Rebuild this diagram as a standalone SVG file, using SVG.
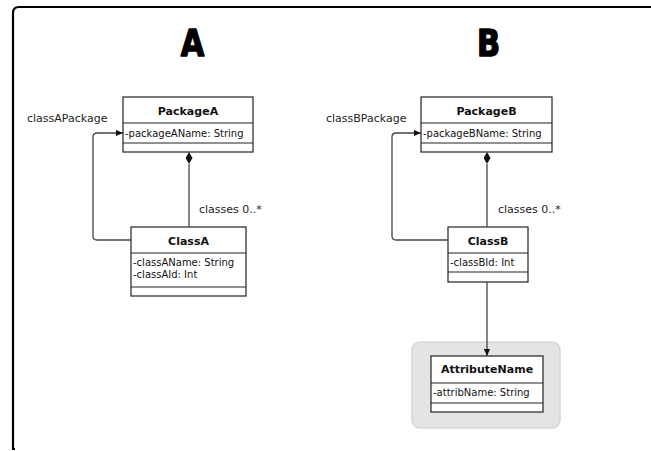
<svg xmlns="http://www.w3.org/2000/svg" width="651" height="451" viewBox="0 0 651 451">
  <defs>
    <marker id="arrow" viewBox="0 0 8 8" refX="8" refY="4" markerWidth="7" markerHeight="7" markerUnits="userSpaceOnUse" orient="auto">
      <path d="M0,0.5 L8,4 L0,7.5 Z" fill="#111"/>
    </marker>
    <marker id="diamond" viewBox="0 0 12 7" refX="0" refY="3.5" markerWidth="12" markerHeight="7" markerUnits="userSpaceOnUse" orient="auto">
      <path d="M0,3.5 L6,0 L12,3.5 L6,7 Z" fill="#111"/>
    </marker>
  </defs>
  <style>
    .frame { fill: none; stroke: #000; stroke-width: 2.2; }
    .big { font-family: "DejaVu Sans", "Liberation Sans", sans-serif; font-weight: bold; font-size: 38px; fill: #000; stroke: #000; stroke-width: 1.6; stroke-linejoin: round; }
    .box { fill: #fff; stroke: #222; stroke-width: 1.2; }
    .sep { stroke: #222; stroke-width: 1; }
    .title { font-family: "DejaVu Sans", sans-serif; font-weight: bold; font-size: 11px; fill: #111; text-anchor: middle; }
    .attr { font-family: "DejaVu Sans", sans-serif; font-size: 10px; fill: #111; }
    .label { font-family: "DejaVu Sans", sans-serif; font-size: 11px; fill: #222; }
    .edge { fill: none; stroke: #444; stroke-width: 1.3; }
    .pkg { fill: #e4e4e4; stroke: #d6d6d6; stroke-width: 1.5; }
  </style>

  <rect width="651" height="451" fill="#fff"/>

  <!-- outer frame -->
  <path class="frame" d="M651,7 H19 Q13,7 13,13 V449 H15"/>

  <!-- section headings -->
  <text class="big" transform="translate(192.5,56) scale(0.8,1)" text-anchor="middle">A</text>
  <text class="big" transform="translate(488.5,56) scale(0.8,1)" text-anchor="middle">B</text>

  <!-- PackageA -->
  <g id="packageA">
    <rect class="box" x="123" y="97" width="130" height="55"/>
    <line class="sep" x1="123" y1="123" x2="253" y2="123"/>
    <line class="sep" x1="123" y1="143" x2="253" y2="143"/>
    <text class="title" x="188" y="115">PackageA</text>
    <text class="attr" x="125" y="137">-packageAName: String</text>
  </g>

  <!-- ClassA -->
  <g id="classA">
    <rect class="box" x="131" y="227" width="115" height="69"/>
    <line class="sep" x1="131" y1="253" x2="246" y2="253"/>
    <line class="sep" x1="131" y1="287" x2="246" y2="287"/>
    <text class="title" x="188.5" y="245">ClassA</text>
    <text class="attr" x="133" y="266">-classAName: String</text>
    <text class="attr" x="133" y="278">-classAId: Int</text>
  </g>

  <!-- PackageB -->
  <g id="packageB">
    <rect class="box" x="421" y="97" width="131" height="55"/>
    <line class="sep" x1="421" y1="123" x2="552" y2="123"/>
    <line class="sep" x1="421" y1="143" x2="552" y2="143"/>
    <text class="title" x="486.5" y="115">PackageB</text>
    <text class="attr" x="423" y="137">-packageBName: String</text>
  </g>

  <!-- ClassB -->
  <g id="classB">
    <rect class="box" x="448" y="227" width="80" height="55"/>
    <line class="sep" x1="448" y1="253" x2="528" y2="253"/>
    <line class="sep" x1="448" y1="272" x2="528" y2="272"/>
    <text class="title" x="488" y="245">ClassB</text>
    <text class="attr" x="450" y="266">-classBId: Int</text>
  </g>

  <!-- AttributeName, on a shaded panel -->
  <g id="attributeName">
    <rect class="pkg" x="412" y="342" width="148" height="86" rx="8" ry="8"/>
    <rect class="box" x="431" y="356" width="112" height="56"/>
    <line class="sep" x1="431" y1="383" x2="543" y2="383"/>
    <line class="sep" x1="431" y1="403" x2="543" y2="403"/>
    <text class="title" x="487" y="373">AttributeName</text>
    <text class="attr" x="433" y="396">-attribName: String</text>
  </g>

  <!-- connectors, drawn over the nodes so the arrowheads stay visible -->
  <g id="connectors">
    <path class="edge" d="M131,240 H97 Q93,240 93,236 V137 Q93,133 97,133 H123" marker-end="url(#arrow)"/>
    <path class="edge" d="M189,227 V164" marker-end="url(#diamond)"/>
    <path class="edge" d="M448,240 H396 Q392,240 392,236 V137 Q392,133 396,133 H421" marker-end="url(#arrow)"/>
    <path class="edge" d="M487,227 V164" marker-end="url(#diamond)"/>
    <path class="edge" d="M487,282 V356" marker-end="url(#arrow)"/>
    <text class="label" x="27" y="122">classAPackage</text>
    <text class="label" x="199" y="213">classes 0..*</text>
    <text class="label" x="326" y="122">classBPackage</text>
    <text class="label" x="498" y="213">classes 0..*</text>
  </g>
</svg>
